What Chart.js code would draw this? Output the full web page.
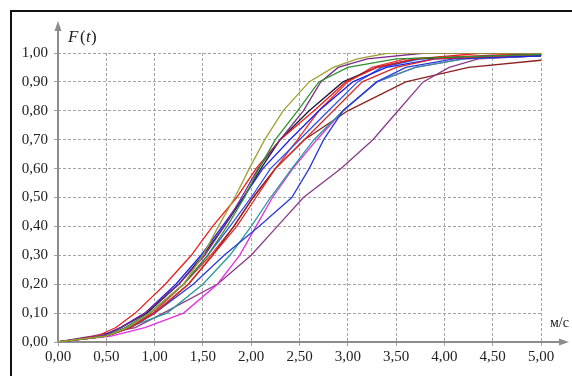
<!DOCTYPE html>
<html>
<head>
<meta charset="utf-8">
<script src="https://cdn.jsdelivr.net/npm/chart.js@4.4.0/dist/chart.umd.min.js"></script>
<style>
  html, body { margin: 0; padding: 0; background: #fff; overflow: hidden; }
  #wrap { position: relative; width: 572px; height: 376px; }
  #frame { position: absolute; left: 10px; top: 10px; width: 600px; height: 400px; border: 2px solid #111; box-sizing: border-box; }
  canvas { position: absolute; left: 0; top: 0; }
</style>
</head>
<body>
<div id="wrap">
  <div id="frame"></div>
  <canvas id="myChart" width="572" height="376"></canvas>
</div>
<script>
const levels = [0, 0.02, 0.05, 0.1, 0.2, 0.3, 0.4, 0.5, 0.6, 0.7, 0.8, 0.9, 0.95, 0.98, 1.0];

// speed values per curve at each level (null = level not reached before 5,00)
const olive   = [0, 0.50, 0.72, 0.95, 1.30, 1.50, 1.66, 1.83, 1.98, 2.14, 2.33, 2.60, 2.85, 3.10, 3.42];
const green   = [0, 0.50, 0.70, 0.95, 1.30, 1.55, 1.75, 1.93, 2.08, 2.25, 2.48, 2.70, 3.00, 3.50, null];
const violet  = [0, 0.45, 0.65, 0.90, 1.25, 1.52, 1.72, 1.90, 2.07, 2.30, 2.54, 2.72, 2.90, 3.20, 3.80];
const red1    = [0, 0.40, 0.60, 0.80, 1.11, 1.38, 1.60, 1.85, 2.05, 2.30, 2.65, 2.98, 3.30, 3.70, 4.40];
const red2    = [0, 0.50, 0.75, 1.00, 1.35, 1.60, 1.85, 2.05, 2.25, 2.55, 2.85, 3.15, 3.50, 3.90, null];
const blue1   = [0, 0.45, 0.65, 0.90, 1.22, 1.48, 1.70, 1.92, 2.12, 2.40, 2.70, 3.05, 3.40, 3.90, null];
const blue2   = [0, 0.50, 0.75, 1.00, 1.40, 1.72, 2.08, 2.42, 2.60, 2.75, 2.95, 3.30, 3.60, 4.10, null];
const navy    = [0, 0.45, 0.65, 0.92, 1.25, 1.50, 1.72, 1.92, 2.10, 2.30, 2.60, 2.95, 3.30, 3.70, null];
const teal    = [0, 0.45, 0.72, 1.13, 1.50, 1.78, 2.00, 2.20, 2.42, 2.65, 2.95, 3.30, 3.70, 4.20, null];
const magenta = [0, 0.55, 0.90, 1.30, 1.65, 1.88, 2.05, 2.22, 2.43, 2.68, 2.95, 3.30, 3.70, 4.20, null];
const purple  = [0, 0.35, 0.80, 1.09, 1.65, 2.00, 2.27, 2.54, 2.93, 3.26, 3.52, 3.78, 4.05, 4.35, null];
const brown   = [0, 0.50, 0.75, 1.00, 1.35, 1.60, 1.82, 2.02, 2.25, 2.55, 3.00, 3.60, 4.25, null, null];
const blue3   = [0, 0.50, 0.70, 0.95, 1.30, 1.55, 1.78, 2.00, 2.20, 2.50, 2.80, 3.10, 3.35, 3.75, null];
const red3    = [0, 0.50, 0.72, 0.98, 1.30, 1.58, 1.82, 2.02, 2.25, 2.48, 2.70, 3.00, 3.25, 3.60, null];

// F(t) value of each curve at 5,00 м/с
const tailValues = [1.0, 0.995, 1.0, 1.0, 0.995, 0.99, 0.99, 0.995, 0.99, 0.99, 0.99, 0.975, 0.995, 1.0];

const curves = [olive, green, violet, red1, red2, blue1, blue2, navy, teal, magenta, purple, brown, blue3, red3];
const colors = ["#a0a032", "#2f8f2f", "#7a2a8c", "#e8201c", "#d42a2a", "#1e22e0", "#2a3cd8", "#1a1a3a",
                "#2a9a9a", "#e030e0", "#8a3a8a", "#8a2020", "#3050f0", "#f03030"];

// axis ticks
const xTicks = [0, 0.5, 1, 1.5, 2, 2.5, 3, 3.5, 4, 4.5, 5];
const yTicks = [0, 0.1, 0.2, 0.3, 0.4, 0.5, 0.6, 0.7, 0.8, 0.9, 1.0];

const fmt = (v) => v.toFixed(2).replace(".", ",");

// build the datasets from the arrays above
const datasets = curves.map((xs, i) => {
  const pts = [];
  xs.forEach((x, k) => {
    if (x !== null) pts.push({ x: x, y: levels[k] });
  });
  pts.push({ x: 5, y: tailValues[i] });
  return {
    data: pts,
    borderColor: colors[i],
    borderWidth: 1.3,
    pointRadius: 0,
    tension: 0,
    fill: false,
  };
});

const serif = "'Liberation Serif', 'DejaVu Serif', serif";

new Chart(document.getElementById("myChart"), {
  type: "line",
  data: { datasets: datasets },
  options: {
    responsive: false,
    animation: false,
    layout: { padding: { left: 0, top: 53, right: 31, bottom: 0 } },
    plugins: { legend: { display: false }, tooltip: { enabled: false } },
    scales: {
      x: {
        type: "linear",
        min: 0,
        max: 5,
        afterBuildTicks: (scale) => { scale.ticks = xTicks.map((v) => ({ value: v })); },
        afterFit: (scale) => { scale.height = 34; },
        ticks: {
          callback: (v) => fmt(v),
          color: "#222",
          font: { family: serif, size: 15 },
          padding: 2,
          maxRotation: 0,
        },
        grid: { color: "#a4a4a4", lineWidth: 1, tickLength: 4 },
        border: { display: false, dash: [3, 2] },
      },
      y: {
        min: 0,
        max: 1,
        afterBuildTicks: (scale) => { scale.ticks = yTicks.map((v) => ({ value: v })); },
        afterFit: (scale) => { scale.width = 58; },
        ticks: {
          callback: (v) => fmt(v),
          color: "#222",
          font: { family: serif, size: 15 },
          padding: 6,
        },
        grid: { color: "#a4a4a4", lineWidth: 1, tickLength: 4 },
        border: { display: false, dash: [3, 2] },
      },
    },
  },
  plugins: [
    {
      id: "axes_arrows",
      beforeDatasetsDraw(chart) {
        const { ctx, scales } = chart;
        const x0 = scales.x.getPixelForValue(0);
        const y0 = scales.y.getPixelForValue(0);
        ctx.save();
        ctx.strokeStyle = "#8c8c8c";
        ctx.fillStyle = "#8c8c8c";
        ctx.lineWidth = 2;
        // y axis
        ctx.beginPath();
        ctx.moveTo(x0, y0);
        ctx.lineTo(x0, 28);
        ctx.stroke();
        ctx.beginPath();
        ctx.moveTo(x0, 21);
        ctx.lineTo(x0 - 3.5, 31);
        ctx.lineTo(x0 + 3.5, 31);
        ctx.closePath();
        ctx.fill();
        // x axis
        ctx.beginPath();
        ctx.moveTo(x0, y0);
        ctx.lineTo(562, y0);
        ctx.stroke();
        ctx.beginPath();
        ctx.moveTo(569, y0);
        ctx.lineTo(559, y0 - 3.5);
        ctx.lineTo(559, y0 + 3.5);
        ctx.closePath();
        ctx.fill();
        ctx.restore();
      },
      afterDraw(chart) {
        const { ctx } = chart;
        ctx.save();
        ctx.fillStyle = "#222";
        ctx.textBaseline = "middle";
        ctx.font = "italic 17px " + serif;
        ctx.fillText("F", 68, 38);
        ctx.font = "17px " + serif;
        ctx.fillText("(", 80, 38);
        ctx.font = "italic 17px " + serif;
        ctx.fillText("t", 86, 38);
        ctx.font = "17px " + serif;
        ctx.fillText(")", 91, 38);
        ctx.font = "14px " + serif;
        ctx.fillText("м/с", 550, 323);
        ctx.restore();
      },
    },
  ],
});
</script>
</body>
</html>
